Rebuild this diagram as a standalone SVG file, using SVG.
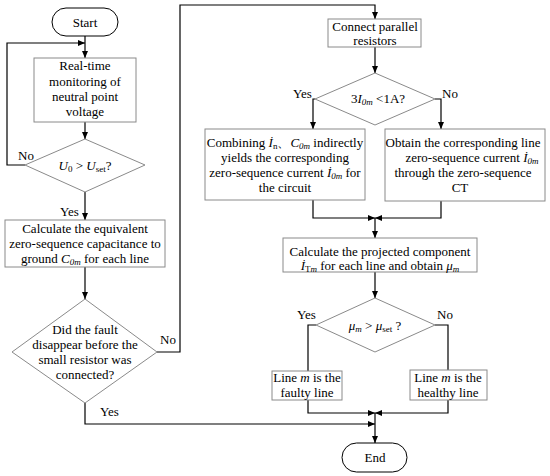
<svg xmlns="http://www.w3.org/2000/svg" width="550" height="476" viewBox="0 0 550 476" font-family="'Liberation Serif', 'DejaVu Serif', serif">
<style>
.box{fill:#fff;stroke:#8a8a8a;stroke-width:1}
.term{fill:#fff;stroke:#000;stroke-width:1}
.c{fill:none;stroke:#000;stroke-width:1.2}
text{font-family:'Liberation Serif','DejaVu Serif',serif;font-size:13px;fill:#000}
.m{text-anchor:middle}
.i{font-style:italic}
.s{font-size:9px}
</style>
<defs>
<marker id="ah" markerWidth="8" markerHeight="8" refX="7" refY="4" orient="auto" markerUnits="userSpaceOnUse">
<path d="M0,1 L7,4 L0,7 Z" fill="#000"/>
</marker>
</defs>
<rect width="550" height="476" fill="#fff"/>

<g id="connectors">
<path class="c" d="M85,36 V58" marker-end="url(#ah)"/>
<path class="c" d="M25,165 H7 V43 H85" marker-end="url(#ah)"/>
<path class="c" d="M85,122 V139" marker-end="url(#ah)"/>
<path class="c" d="M85,192 V220" marker-end="url(#ah)"/>
<path class="c" d="M85,267 V299" marker-end="url(#ah)"/>
<path class="c" d="M157,352 H180 V5 H375 V19" marker-end="url(#ah)"/>
<path class="c" d="M85,403 V424 H375" marker-end="url(#ah)"/>
<path class="c" d="M375,47 V73" marker-end="url(#ah)"/>
<path class="c" d="M315,99 H313 V129" marker-end="url(#ah)"/>
<path class="c" d="M435,99 H441 V129" marker-end="url(#ah)"/>
<path class="c" d="M313,200 V218 H375" marker-end="url(#ah)"/>
<path class="c" d="M441,201 V218 H375" marker-end="url(#ah)"/>
<path class="c" d="M375,218 V238" marker-end="url(#ah)"/>
<path class="c" d="M375,272 V298" marker-end="url(#ah)"/>
<path class="c" d="M316,325 H308 V371"/>
<path class="c" d="M435,325 H448 V370"/>
<path class="c" d="M308,400 V413 H375" marker-end="url(#ah)"/>
<path class="c" d="M448,400 V413 H375" marker-end="url(#ah)"/>
<path class="c" d="M375,413 V443" marker-end="url(#ah)"/>
<text x="18" y="160">No</text>
<text x="60" y="216">Yes</text>
<text x="160" y="344">No</text>
<text x="100" y="416">Yes</text>
<text x="293" y="98">Yes</text>
<text x="442" y="98">No</text>
<text x="297" y="319">Yes</text>
<text x="437" y="319">No</text>
</g>

<g id="start">
<rect class="term" x="52" y="8" width="66" height="28" rx="14"/>
<text class="m" x="85" y="26.5">Start</text>
</g>

<g id="monitor">
<rect class="box" x="34" y="58" width="102" height="64"/>
<text class="m" x="85" y="70">Real-time</text>
<text class="m" x="85" y="85.5">monitoring of</text>
<text class="m" x="85" y="101">neutral point</text>
<text class="m" x="85" y="116">voltage</text>
</g>

<g id="check-u0">
<polygon class="box" points="85,139 145,165 85,192 25,165"/>
<text class="m" x="85" y="170"><tspan class="i">U</tspan><tspan class="s" dy="2">0</tspan><tspan dy="-2"> &gt; </tspan><tspan class="i">U</tspan><tspan class="s" dy="2">set</tspan><tspan dy="-2">?</tspan></text>
</g>

<g id="calc-c0m">
<rect class="box" x="5" y="220" width="160" height="47"/>
<text class="m" x="85" y="233">Calculate the equivalent</text>
<text class="m" x="85" y="248">zero-sequence capacitance to</text>
<text class="m" x="85" y="263">ground <tspan class="i">C</tspan><tspan class="s i" dy="2">0m</tspan><tspan dy="-2"> for each line</tspan></text>
</g>

<g id="fault-disappear">
<polygon class="box" points="85,299 157,352 85,403 12,352"/>
<text class="m" x="85" y="334">Did the fault</text>
<text class="m" x="85" y="349">disappear before the</text>
<text class="m" x="85" y="364">small resistor was</text>
<text class="m" x="85" y="379">connected?</text>
</g>

<g id="connect-resistors">
<rect class="box" x="328" y="19" width="93" height="28"/>
<text class="m" x="375" y="31">Connect parallel</text>
<text class="m" x="375" y="45">resistors</text>
</g>

<g id="check-i0m">
<polygon class="box" points="375,73 435,99 375,125 315,99"/>
<text class="m" x="378" y="103">3<tspan class="i">I</tspan><tspan class="s i" dy="2">0m</tspan><tspan dy="-2"> &lt;1A?</tspan></text>
</g>

<g id="combining">
<rect class="box" x="205" y="129" width="160" height="71"/>
<text class="m" x="285" y="147">Combining <tspan class="i">İ</tspan><tspan class="s" dy="2">n</tspan><tspan dy="-2">、</tspan><tspan class="i">C</tspan><tspan class="s i" dy="2">0m</tspan><tspan dy="-2"> indirectly</tspan></text>
<text class="m" x="285" y="162">yields the corresponding</text>
<text class="m" x="285" y="177">zero-sequence current <tspan class="i">İ</tspan><tspan class="s i" dy="2">0m</tspan><tspan dy="-2"> for</tspan></text>
<text class="m" x="285" y="192">the circuit</text>
</g>

<g id="obtain-ct">
<rect class="box" x="385" y="129" width="160" height="72"/>
<text class="m" x="463" y="147">Obtain the corresponding line</text>
<text class="m" x="472" y="162">zero-sequence current <tspan class="i">İ</tspan><tspan class="s i" dy="2">0m</tspan></text>
<text class="m" x="463" y="177">through the zero-sequence</text>
<text class="m" x="460" y="192">CT</text>
</g>

<g id="calc-projected">
<rect class="box" x="283" y="238" width="194" height="34"/>
<text class="m" x="380" y="256">Calculate the projected component</text>
<text class="m" x="380" y="269.5"><tspan class="i">İ</tspan><tspan class="s" dy="2">T</tspan><tspan class="s i">m</tspan><tspan dy="-2"> for each line and obtain </tspan><tspan class="i">μ</tspan><tspan class="s i" dy="2">m</tspan></text>
</g>

<g id="check-mu">
<polygon class="box" points="375,298 435,325 375,352 316,325"/>
<text class="m" x="375" y="330"><tspan class="i">μ</tspan><tspan class="s i" dy="2">m</tspan><tspan dy="-2"> &gt; </tspan><tspan class="i">μ</tspan><tspan class="s" dy="2">set</tspan><tspan dy="-2"> ?</tspan></text>
</g>

<g id="faulty">
<rect class="box" x="272" y="371" width="70" height="29"/>
<text class="m" x="307" y="382">Line <tspan class="i">m</tspan> is the</text>
<text class="m" x="307" y="397">faulty line</text>
</g>

<g id="healthy">
<rect class="box" x="410" y="370" width="77" height="30"/>
<text class="m" x="448" y="382">Line <tspan class="i">m</tspan> is the</text>
<text class="m" x="448" y="397">healthy line</text>
</g>

<g id="end">
<rect class="term" x="342" y="443" width="65" height="29" rx="14.5"/>
<text class="m" x="375" y="462">End</text>
</g>
</svg>
